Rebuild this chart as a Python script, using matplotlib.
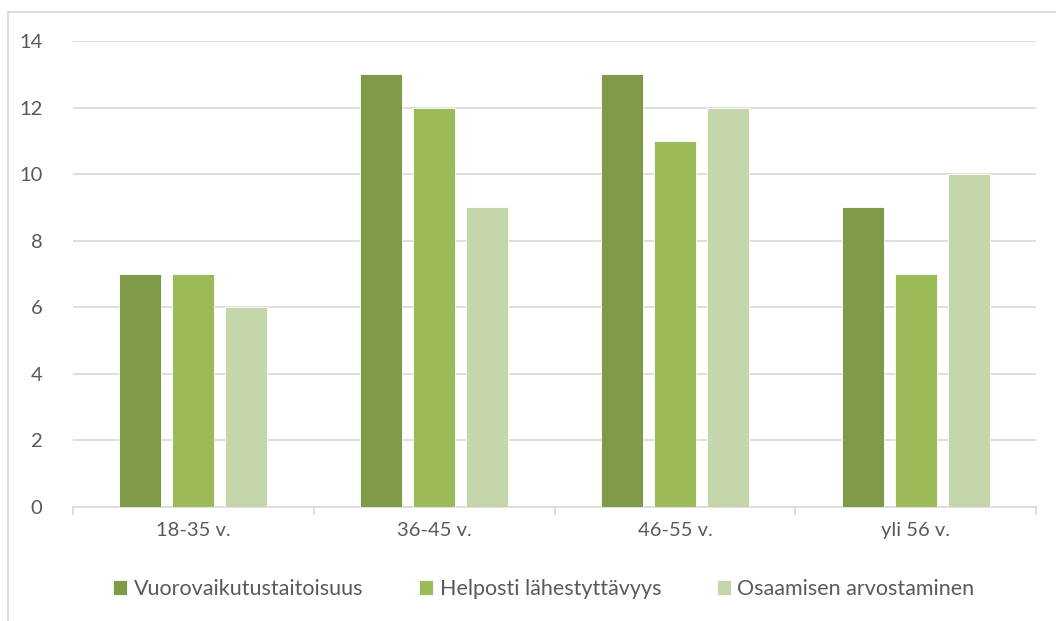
import numpy as np
import matplotlib.pyplot as plt
from matplotlib.lines import Line2D

plt.rcParams['font.family'] = ['Lato', 'DejaVu Sans']

categories = ['18-35 v.', '36-45 v.', '46-55 v.', 'yli 56 v.']
series_names = ['Vuorovaikutustaitoisuus', 'Helposti lähestyttävyys', 'Osaamisen arvostaminen']
vuorovaikutus = [7, 13, 13, 9]
helposti = [7, 12, 11, 7]
osaaminen = [6, 9, 12, 10]
colors = ['#7F9A48', '#9BBB59', '#C5D6AA']

txt = '#595959'
grid = '#D9D9D9'

fig = plt.figure(figsize=(10.56, 6.21), dpi=100)
ax = fig.add_axes([73/1056, 1-507/621, (1036-73)/1056, (507-41)/621])

x = np.arange(len(categories))
w = 0.174
step = 0.22
for k, vals in enumerate([vuorovaikutus, helposti, osaaminen]):
    ax.bar(x + (k-1)*step, vals, w, color=colors[k], edgecolor='white',
           linewidth=0.6, label=series_names[k], zorder=3)

ax.set_xlim(-0.5, len(categories)-0.5)
ax.set_ylim(0, 14)
ax.set_yticks(range(0, 15, 2))
ax.yaxis.grid(True, color=grid, linewidth=1.2, zorder=0)
ax.set_xticks(x)
ax.set_xticklabels(categories)
ax.set_xticks(np.arange(-0.5, len(categories)), minor=True)
ax.tick_params(axis='x', which='major', length=0, pad=11, labelsize=14.5, labelcolor=txt)
ax.tick_params(axis='x', which='minor', length=6, color=grid, width=1.2)
ax.tick_params(axis='y', length=0, pad=22, labelsize=14.5, labelcolor=txt)
for s in ['top', 'right', 'left']:
    ax.spines[s].set_visible(False)
ax.spines['bottom'].set_color(grid)
ax.spines['bottom'].set_linewidth(1.2)

leg = fig.legend(loc='center', bbox_to_anchor=(0.515, 1-589/621), ncol=3, frameon=False,
                 fontsize=15.5, handlelength=0.65, handleheight=0.65, handletextpad=0.3,
                 columnspacing=2.6)
for t in leg.get_texts():
    t.set_color(txt)

# chart frame (top and left edges visible)
fig.add_artist(Line2D([8/1056, 8/1056], [0, 1-12/621], color=grid, linewidth=1.2))
fig.add_artist(Line2D([8/1056, 1], [1-12/621, 1-12/621], color=grid, linewidth=1.2))

fig.savefig('out.png', dpi=100)
